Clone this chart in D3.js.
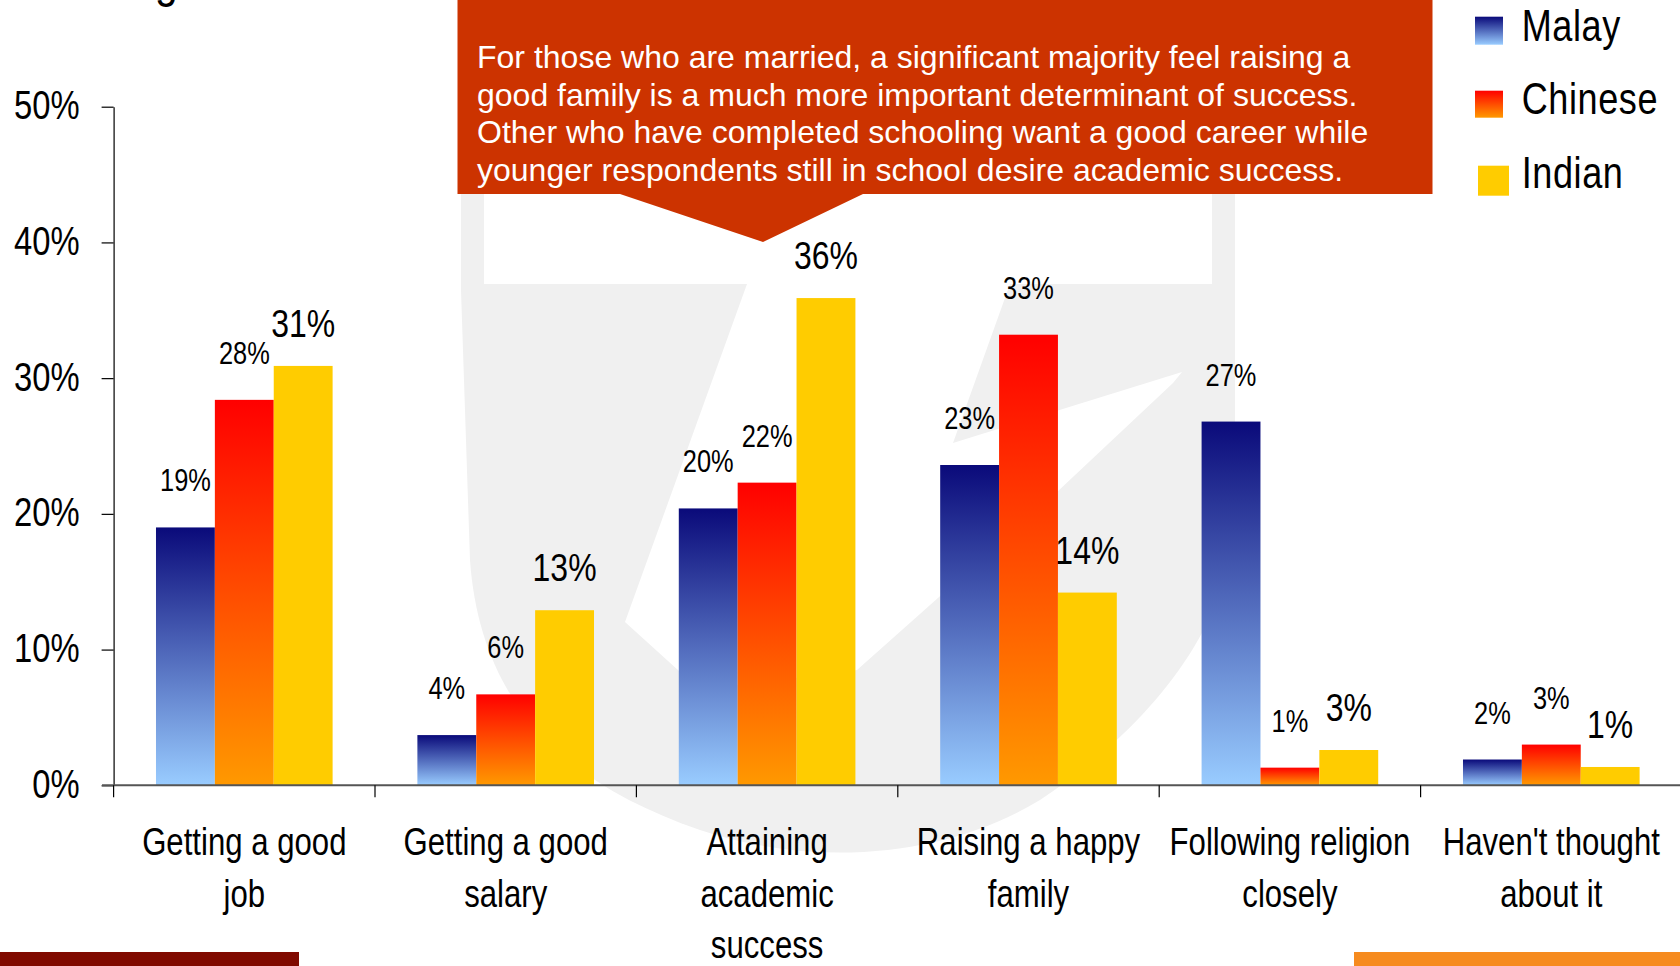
<!DOCTYPE html>
<html><head><meta charset="utf-8">
<script src="https://cdn.jsdelivr.net/npm/d3@7"></script>
<style>html,body{margin:0;padding:0;background:#fff;overflow:hidden}</style>
</head><body>
<svg id="c" width="1680" height="966"></svg>
<script>
// ---------- data ----------
const categories = ["Getting a good job","Getting a good salary","Attaining academic success","Raising a happy family","Following religion closely","Haven't thought about it"];
const categoryLines = [["Getting a good","job"],["Getting a good","salary"],["Attaining","academic","success"],["Raising a happy","family"],["Following religion","closely"],["Haven't thought","about it"]];
const series = ["Malay","Chinese","Indian"];
const malayValues   = [19.0, 3.7, 20.4, 23.6, 26.8, 1.9];
const chineseValues = [28.4, 6.7, 22.3, 33.2, 1.3, 3.0];
const indianValues  = [30.9, 12.9, 35.9, 14.2, 2.6, 1.35];
const malayLabels   = ["19%","4%","20%","23%","27%","2%"];
const chineseLabels = ["28%","6%","22%","33%","1%","3%"];
const indianLabels  = ["31%","13%","36%","14%","3%","1%"];
const yTicks = [0,10,20,30,40,50];
const calloutLines = [
  "For those who are married, a significant majority feel raising a",
  "good family is a much more important determinant of success.",
  "Other who have completed schooling want a good career while",
  "younger respondents still in school desire academic success."
];

// ---------- fonts ----------
function hasFont(name){
  const c=document.createElement('canvas').getContext('2d');
  const s='Getting a good 0123456789%';
  c.font='40px monospace'; const w0=c.measureText(s).width;
  c.font="40px '"+name+"', monospace"; return Math.abs(c.measureText(s).width-w0)>0.5;
}
const narrowOK = hasFont('Liberation Sans Narrow');
const NARROW = narrowOK ? "'Liberation Sans Narrow','Arial Narrow',sans-serif" : "'Liberation Sans',Arial,sans-serif";
const SX = narrowOK ? 1 : 0.82;
const SANS = "'Liberation Sans',Arial,sans-serif";

const svg = d3.select('#c');
function ntext(parent,x,y,str,size,anchor){
  return parent.append('text')
    .attr('transform',`translate(${x},${y}) scale(${SX},1)`)
    .attr('font-family',NARROW).attr('font-size',size)
    .attr('text-anchor',anchor||'middle').attr('fill','#000').text(str);
}

// ---------- defs ----------
const defs = svg.append('defs');
const gM = defs.append('linearGradient').attr('id','gMalay').attr('x1',0).attr('y1',0).attr('x2',0).attr('y2',1);
gM.append('stop').attr('offset','0%').attr('stop-color','#0a0a7a');
gM.append('stop').attr('offset','100%').attr('stop-color','#99ccff');
const gC = defs.append('linearGradient').attr('id','gChinese').attr('x1',0).attr('y1',0).attr('x2',0).attr('y2',1);
gC.append('stop').attr('offset','0%').attr('stop-color','#ff0000');
gC.append('stop').attr('offset','100%').attr('stop-color','#ff9900');
const fills = {Malay:'url(#gMalay)', Chinese:'url(#gChinese)', Indian:'#ffcc00'};

// ---------- watermark ----------
const wm = svg.append('g');
wm.append('path').attr('fill','#f0f0f0')
  .attr('d','M461,190 L1235,190 L1235,520 C1230,620 1160,720 1040,800 C950,855 820,870 700,830 C560,782 480,700 470,560 L461,290 Z');
wm.append('path').attr('fill','#fff').attr('d','M484,190 H1212 V284 H484 Z');
wm.append('path').attr('fill','#fff')
  .attr('d','M747,284 L1010,284 L953,443 L1182,372 L1173,383 L1057,492 L857,670 L700,690 L625,622 Z');

// ---------- scales ----------
const y = d3.scaleLinear().domain([0,50]).range([785.3,106.7]);
const x0 = d3.scaleBand().domain(categories).range([113.6,1682]).paddingInner(0).paddingOuter(0);
const x1 = d3.scaleBand().domain(series).range([0,x0.bandwidth()]).paddingInner(0).paddingOuter(0.72);

const valuesBy = {Malay:malayValues, Chinese:chineseValues, Indian:indianValues};
const labelsBy = {Malay:malayLabels, Chinese:chineseLabels, Indian:indianLabels};

// ---------- axes ----------
const yAxis = svg.append('g').attr('transform','translate(113.6,0)')
  .call(d3.axisLeft(y).tickValues(yTicks).tickFormat(d=>d+'%').tickSize(12).tickSizeOuter(0).tickPadding(22));
yAxis.select('.domain').attr('stroke','#000').attr('stroke-width',1.2);
yAxis.selectAll('.tick line').attr('stroke','#000').attr('stroke-width',1.2);
yAxis.selectAll('.tick text').each(function(){
  const t=d3.select(this); const xx=+t.attr('x');
  t.attr('x',null).attr('dy','0.3em').attr('transform',`translate(${xx},0) scale(${SX},1)`)
   .attr('font-family',NARROW).attr('font-size',40).attr('fill','#000');
});

// bars
const groups = svg.append('g').selectAll('g').data(categories).join('g')
  .attr('transform',d=>`translate(${x0(d)},0)`);
series.forEach(s=>{
  groups.append('rect')
    .attr('x',x1(s)).attr('width',x1.bandwidth())
    .attr('y',(d,i)=>y(valuesBy[s][i]))
    .attr('height',(d,i)=>y(0)-y(valuesBy[s][i]))
    .attr('fill',fills[s]);
});

// x axis line and ticks
const xAxisG = svg.append('g');
xAxisG.append('line').attr('x1',102).attr('x2',1680).attr('y1',y(0)).attr('y2',y(0))
  .attr('stroke','#555').attr('stroke-width',2);
const bounds = categories.map(c=>x0(c)).concat([x0(categories[categories.length-1])+x0.bandwidth()]);
xAxisG.selectAll('line.tk').data(bounds).join('line').attr('class','tk')
  .attr('x1',d=>d).attr('x2',d=>d).attr('y1',y(0)).attr('y2',y(0)+12)
  .attr('stroke','#000').attr('stroke-width',1.2);

// category labels
categories.forEach((c,i)=>{
  const cx = x0(c)+x0.bandwidth()/2;
  categoryLines[i].forEach((ln,j)=>{
    ntext(svg,cx,855+j*51.5,ln,38,'middle');
  });
});

// value labels
series.forEach(s=>{
  const big = s==='Indian';
  categories.forEach((c,i)=>{
    const cx = x0(c)+x1(s)+x1.bandwidth()/2;
    const yy = y(valuesBy[s][i]) - (big?29:36);
    ntext(svg,cx,yy,labelsBy[s][i],big?39:31,'middle');
  });
});

// ---------- callout ----------
svg.append('path').attr('fill','#cc3300')
  .attr('d','M457.5,0 H1432.5 V194 H863 L763,242 L620,194 H457.5 Z');
calloutLines.forEach((ln,i)=>{
  svg.append('text').attr('x',477).attr('y',68+i*37.5)
    .attr('font-family',SANS).attr('font-size',32).attr('fill','#fff').text(ln);
});

// ---------- legend ----------
const legendRows = [
  {s:'Malay', x:1475, y:16.7, w:28, h:28, ty:40.5},
  {s:'Chinese', x:1475, y:90.7, w:28, h:27, ty:114},
  {s:'Indian', x:1478, y:165.7, w:31, h:30, ty:188}
];
legendRows.forEach(r=>{
  svg.append('rect').attr('x',r.x).attr('y',r.y).attr('width',r.w).attr('height',r.h).attr('fill',fills[r.s]);
  ntext(svg,1521.7,r.ty,r.s,44,'start').attr('letter-spacing',0.7);
});

// ---------- title fragment & footer bars ----------
ntext(svg,155,-3,'g',50,'start');
svg.append('rect').attr('x',0).attr('y',952).attr('width',299).attr('height',14).attr('fill','#800a00');
svg.append('rect').attr('x',1354).attr('y',952).attr('width',326).attr('height',14).attr('fill','#f68b1f');
</script>
</body></html>
